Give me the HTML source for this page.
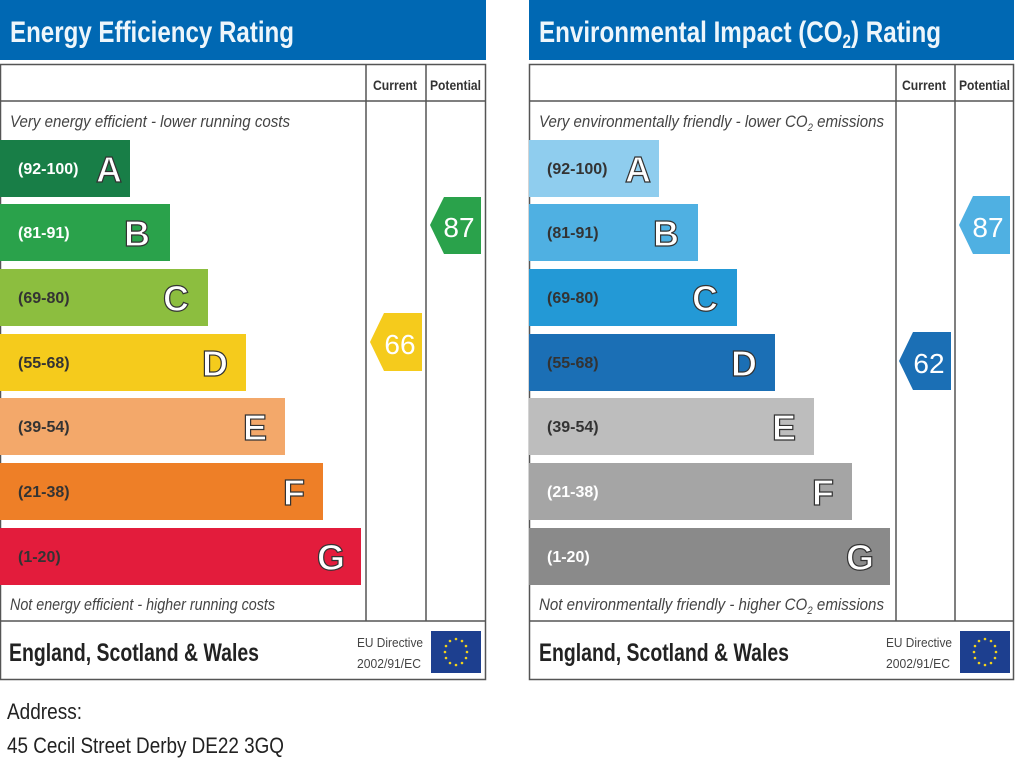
<!DOCTYPE html>
<html><head><meta charset="utf-8"><style>
html,body{margin:0;padding:0;background:#fff;}
svg{display:block;}
text{font-family:"Liberation Sans Narrow","Liberation Sans",sans-serif;}
</style></head><body>
<svg width="1024" height="768" viewBox="0 0 1024 768" xmlns="http://www.w3.org/2000/svg">
<!-- LEFT PANEL -->
<g>
<rect x="0" y="0" width="486" height="60" fill="#0068b3"/>
<text x="10" y="42" font-size="30" font-weight="bold" fill="#eef6fb" textLength="284" lengthAdjust="spacingAndGlyphs">Energy Efficiency Rating</text>
<rect x="0.5" y="64.5" width="485" height="615" fill="none" stroke="#555" stroke-width="1.5"/>
<line x1="0" y1="101" x2="486" y2="101" stroke="#555" stroke-width="1.5"/>
<line x1="366" y1="64" x2="366" y2="621" stroke="#555" stroke-width="1.5"/>
<line x1="426" y1="64" x2="426" y2="621" stroke="#555" stroke-width="1.5"/>
<line x1="0" y1="621" x2="486" y2="621" stroke="#555" stroke-width="1.5"/>
<text x="373" y="90" font-size="14" font-weight="bold" fill="#333" textLength="44" lengthAdjust="spacingAndGlyphs">Current</text>
<text x="430" y="90" font-size="14" font-weight="bold" fill="#333" textLength="51" lengthAdjust="spacingAndGlyphs">Potential</text>
<text x="10" y="127" font-size="17" font-style="italic" fill="#444" textLength="280" lengthAdjust="spacingAndGlyphs">Very energy efficient - lower running costs</text>
<text x="10" y="610" font-size="17" font-style="italic" fill="#444" textLength="265" lengthAdjust="spacingAndGlyphs">Not energy efficient - higher running costs</text>

<rect x="0" y="140" width="130" height="57" fill="#187e47"/>
<rect x="0" y="204" width="170" height="57" fill="#2aa24b"/>
<rect x="0" y="269" width="208" height="57" fill="#8cbe3f"/>
<rect x="0" y="334" width="246" height="57" fill="#f5cb1c"/>
<rect x="0" y="398" width="285" height="57" fill="#f3a86a"/>
<rect x="0" y="463" width="323" height="57" fill="#ee7f27"/>
<rect x="0" y="528" width="361" height="57" fill="#e31c3c"/>
<g font-size="16" font-weight="bold">
<text x="18" y="174" fill="#fff">(92-100)</text>
<text x="18" y="238" fill="#fff">(81-91)</text>
<text x="18" y="303" fill="#333">(69-80)</text>
<text x="18" y="368" fill="#333">(55-68)</text>
<text x="18" y="432" fill="#333">(39-54)</text>
<text x="18" y="497" fill="#333">(21-38)</text>
<text x="18" y="562" fill="#333">(1-20)</text>
</g>
<g font-size="36" font-weight="bold" fill="#fff" stroke="#333" stroke-width="1.2" text-anchor="end">
<text x="122" y="182">A</text>
<text x="150" y="246">B</text>
<text x="189" y="311">C</text>
<text x="228" y="376">D</text>
<text x="267" y="440">E</text>
<text x="305" y="505">F</text>
<text x="345" y="570">G</text>
</g>
<polygon points="370,342 384,313 422,313 422,371 384,371" fill="#f5cb1c"/>
<text x="400" y="354" font-size="28" fill="#fff" text-anchor="middle">66</text>
<polygon points="430,225 444,197 481,197 481,254 444,254" fill="#2aa24b"/>
<text x="459" y="237" font-size="28" fill="#fff" text-anchor="middle">87</text>

<text x="9" y="661" font-size="25" font-weight="bold" fill="#222" textLength="250" lengthAdjust="spacingAndGlyphs">England, Scotland &amp; Wales</text>
<text x="357" y="647" font-size="13" fill="#444" textLength="66" lengthAdjust="spacingAndGlyphs">EU Directive</text>
<text x="357" y="668" font-size="13" fill="#444" textLength="64" lengthAdjust="spacingAndGlyphs">2002/91/EC</text>
<rect x="431" y="631" width="50" height="42" fill="#1d3f8f"/>
<g fill="#f2d21c"><circle cx="456" cy="639" r="1.3"/><circle cx="462" cy="641" r="1.3"/><circle cx="466" cy="646" r="1.3"/><circle cx="467" cy="652" r="1.3"/><circle cx="466" cy="658" r="1.3"/><circle cx="462" cy="663" r="1.3"/><circle cx="456" cy="665" r="1.3"/><circle cx="450" cy="663" r="1.3"/><circle cx="446" cy="658" r="1.3"/><circle cx="445" cy="652" r="1.3"/><circle cx="446" cy="646" r="1.3"/><circle cx="450" cy="641" r="1.3"/></g>
</g>

<!-- RIGHT PANEL -->
<g>
<rect x="529" y="0" width="485" height="60" fill="#0068b3"/>
<text x="539" y="42" font-size="30" font-weight="bold" fill="#eef6fb" textLength="402" lengthAdjust="spacingAndGlyphs">Environmental Impact (CO<tspan font-size="19" dy="6">2</tspan><tspan dy="-6">) Rating</tspan></text>
<rect x="529.5" y="64.5" width="484" height="615" fill="none" stroke="#555" stroke-width="1.5"/>
<line x1="529" y1="101" x2="1014" y2="101" stroke="#555" stroke-width="1.5"/>
<line x1="896" y1="64" x2="896" y2="621" stroke="#555" stroke-width="1.5"/>
<line x1="955" y1="64" x2="955" y2="621" stroke="#555" stroke-width="1.5"/>
<line x1="529" y1="621" x2="1014" y2="621" stroke="#555" stroke-width="1.5"/>
<text x="902" y="90" font-size="14" font-weight="bold" fill="#333" textLength="44" lengthAdjust="spacingAndGlyphs">Current</text>
<text x="959" y="90" font-size="14" font-weight="bold" fill="#333" textLength="51" lengthAdjust="spacingAndGlyphs">Potential</text>
<text x="539" y="127" font-size="17" font-style="italic" fill="#444" textLength="345" lengthAdjust="spacingAndGlyphs">Very environmentally friendly - lower CO<tspan font-size="11" dy="4">2</tspan><tspan dy="-4"> emissions</tspan></text>
<text x="539" y="610" font-size="17" font-style="italic" fill="#444" textLength="345" lengthAdjust="spacingAndGlyphs">Not environmentally friendly - higher CO<tspan font-size="11" dy="4">2</tspan><tspan dy="-4"> emissions</tspan></text>

<rect x="529" y="140" width="130" height="57" fill="#8fcdee"/>
<rect x="529" y="204" width="169" height="57" fill="#4fb0e2"/>
<rect x="529" y="269" width="208" height="57" fill="#2399d6"/>
<rect x="529" y="334" width="246" height="57" fill="#1b6fb5"/>
<rect x="529" y="398" width="285" height="57" fill="#bdbdbd"/>
<rect x="529" y="463" width="323" height="57" fill="#a5a5a5"/>
<rect x="529" y="528" width="361" height="57" fill="#8a8a8a"/>
<g font-size="16" font-weight="bold">
<text x="547" y="174" fill="#333">(92-100)</text>
<text x="547" y="238" fill="#333">(81-91)</text>
<text x="547" y="303" fill="#333">(69-80)</text>
<text x="547" y="368" fill="#333">(55-68)</text>
<text x="547" y="432" fill="#333">(39-54)</text>
<text x="547" y="497" fill="#fff">(21-38)</text>
<text x="547" y="562" fill="#fff">(1-20)</text>
</g>
<g font-size="36" font-weight="bold" fill="#fff" stroke="#333" stroke-width="1.2" text-anchor="end">
<text x="651" y="182">A</text>
<text x="679" y="246">B</text>
<text x="718" y="311">C</text>
<text x="757" y="376">D</text>
<text x="796" y="440">E</text>
<text x="834" y="505">F</text>
<text x="874" y="570">G</text>
</g>
<polygon points="899,361 913,332 951,332 951,390 913,390" fill="#1b6fb5"/>
<text x="929" y="373" font-size="28" fill="#fff" text-anchor="middle">62</text>
<polygon points="959,225 973,196 1010,196 1010,254 973,254" fill="#4fb0e2"/>
<text x="988" y="237" font-size="28" fill="#fff" text-anchor="middle">87</text>

<text x="539" y="661" font-size="25" font-weight="bold" fill="#222" textLength="250" lengthAdjust="spacingAndGlyphs">England, Scotland &amp; Wales</text>
<text x="886" y="647" font-size="13" fill="#444" textLength="66" lengthAdjust="spacingAndGlyphs">EU Directive</text>
<text x="886" y="668" font-size="13" fill="#444" textLength="64" lengthAdjust="spacingAndGlyphs">2002/91/EC</text>
<rect x="960" y="631" width="50" height="42" fill="#1d3f8f"/>
<g fill="#f2d21c"><circle cx="985" cy="639" r="1.3"/><circle cx="991" cy="641" r="1.3"/><circle cx="995" cy="646" r="1.3"/><circle cx="996" cy="652" r="1.3"/><circle cx="995" cy="658" r="1.3"/><circle cx="991" cy="663" r="1.3"/><circle cx="985" cy="665" r="1.3"/><circle cx="979" cy="663" r="1.3"/><circle cx="975" cy="658" r="1.3"/><circle cx="974" cy="652" r="1.3"/><circle cx="975" cy="646" r="1.3"/><circle cx="979" cy="641" r="1.3"/></g>
</g>

<text x="7" y="719" font-size="22" fill="#222" textLength="75" lengthAdjust="spacingAndGlyphs">Address:</text>
<text x="7" y="753" font-size="22" fill="#222" textLength="277" lengthAdjust="spacingAndGlyphs">45 Cecil Street Derby DE22 3GQ</text>
</svg>
</body></html>
